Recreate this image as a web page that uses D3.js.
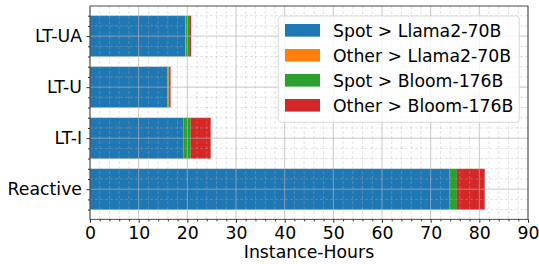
<!DOCTYPE html>
<html>
<head>
<meta charset="utf-8">
<script src="https://cdn.jsdelivr.net/npm/d3@7"></script>
<style>
  body { margin: 0; background: #fff; }
  svg { display: block; font-family: "DejaVu Sans", sans-serif; }
</style>
</head>
<body>
<svg id="chart" width="539" height="264"></svg>
<script>
// categories listed bottom-up (matplotlib barh order)
const categories = ['Reactive', 'LT-I', 'LT-U', 'LT-UA'];
const series = ['Spot > Llama2-70B', 'Other > Llama2-70B', 'Spot > Bloom-176B', 'Other > Bloom-176B'];
const spotLlama = [73.9, 19.2, 15.95, 19.57];
const otherLlama = [0, 0, 0.2, 0.1];
const spotBloom = [1.5, 1.5, 0.1, 0.7];
const otherBloom = [5.7, 4.1, 0.3, 0.4];
const xTicks = [0, 10, 20, 30, 40, 50, 60, 70, 80, 90];
const colors = ['#1f77b4', '#ff7f0e', '#2ca02c', '#d62728'];

const svg = d3.select('#chart');
const mLeft = 90, mRight = 528, mTop = 6, mBottom = 219.3;
const fs = 17.3;

const x = d3.scaleLinear().domain([0, 90]).range([mLeft, mRight]);
const y = d3.scaleLinear().domain([-0.59, 3.59]).range([mBottom, mTop]);
const barH = 0.8;

const rows = categories.map((c, i) => ({
  cat: i,
  [series[0]]: spotLlama[i],
  [series[1]]: otherLlama[i],
  [series[2]]: spotBloom[i],
  [series[3]]: otherBloom[i],
}));
const stacked = d3.stack().keys(series)(rows);

// bars
stacked.forEach((layer, k) => {
  svg.append('g').attr('fill', colors[k])
    .selectAll('rect').data(layer).join('rect')
    .attr('x', d => x(d[0]))
    .attr('width', d => x(d[1]) - x(d[0]))
    .attr('y', d => y(d.data.cat + barH / 2))
    .attr('height', d => y(d.data.cat - barH / 2) - y(d.data.cat + barH / 2));
});

// grid on top of bars
const minorX = d3.range(0, 91, 2).filter(v => v % 10 !== 0);
const minorY = d3.range(-0.4, 3.45, 0.2).map(v => Math.round(v * 10) / 10)
  .filter(v => Math.abs(v - Math.round(v)) > 0.01);
const grid = svg.append('g');
grid.selectAll('.mx').data(minorX).join('line')
  .attr('x1', d => x(d)).attr('x2', d => x(d)).attr('y1', mTop).attr('y2', mBottom)
  .attr('stroke', '#b0b0b0').attr('stroke-opacity', 0.45).attr('stroke-dasharray', '3,2').attr('stroke-width', 0.8);
grid.selectAll('.my').data(minorY).join('line')
  .attr('y1', d => y(d)).attr('y2', d => y(d)).attr('x1', mLeft).attr('x2', mRight)
  .attr('stroke', '#b0b0b0').attr('stroke-opacity', 0.45).attr('stroke-dasharray', '3,2').attr('stroke-width', 0.8);
grid.selectAll('.gx').data(xTicks).join('line')
  .attr('x1', d => x(d)).attr('x2', d => x(d)).attr('y1', mTop).attr('y2', mBottom)
  .attr('stroke', '#b0b0b0').attr('stroke-opacity', 0.7).attr('stroke-width', 1);
grid.selectAll('.gy').data(d3.range(categories.length)).join('line')
  .attr('y1', d => y(d)).attr('y2', d => y(d)).attr('x1', mLeft).attr('x2', mRight)
  .attr('stroke', '#b0b0b0').attr('stroke-opacity', 0.7).attr('stroke-width', 1);

// axes
const xAxis = svg.append('g').attr('transform', `translate(0,${mBottom})`)
  .call(d3.axisBottom(x).tickValues(xTicks).tickSize(3.5).tickPadding(4));
svg.append('g').attr('transform', `translate(0,${mBottom})`)
  .call(d3.axisBottom(x).tickValues(minorX).tickSize(2).tickFormat(''))
  .call(g => g.select('.domain').remove());
const yAxis = svg.append('g').attr('transform', `translate(${mLeft},0)`)
  .call(d3.axisLeft(y).tickValues(d3.range(categories.length)).tickFormat(i => categories[i]).tickSize(3.5).tickPadding(4.5));
svg.append('g').attr('transform', `translate(${mLeft},0)`)
  .call(d3.axisLeft(y).tickValues(minorY).tickSize(2).tickFormat(''))
  .call(g => g.select('.domain').remove());
svg.selectAll('.tick text').attr('font-size', fs).attr('font-family', '"DejaVu Sans", sans-serif').attr('fill', '#000');
svg.selectAll('.tick line').attr('stroke', '#000').attr('stroke-width', 0.8);
xAxis.select('.domain').remove();
yAxis.select('.domain').remove();

// frame
svg.append('rect').attr('x', mLeft).attr('y', mTop).attr('width', mRight - mLeft).attr('height', mBottom - mTop)
  .attr('fill', 'none').attr('stroke', '#222').attr('stroke-width', 0.8);

svg.append('text').attr('x', (mLeft + mRight) / 2).attr('y', 258)
  .attr('text-anchor', 'middle').attr('font-size', fs).text('Instance-Hours');

// legend
const lg = svg.append('g');
lg.append('rect').attr('x', 278.3).attr('y', 16).attr('width', 241).attr('height', 106.3).attr('rx', 3)
  .attr('fill', '#fff').attr('fill-opacity', 0.8).attr('stroke', '#d0d0d0').attr('stroke-width', 0.8);
series.forEach((s, k) => {
  const cy = 30.3 + k * 25;
  lg.append('rect').attr('x', 285).attr('y', cy - 6.3).attr('width', 35).attr('height', 12.6).attr('fill', colors[k]);
  lg.append('text').attr('x', 333).attr('y', cy + 6.3).attr('font-size', fs).text(s);
});
</script>
</body>
</html>
